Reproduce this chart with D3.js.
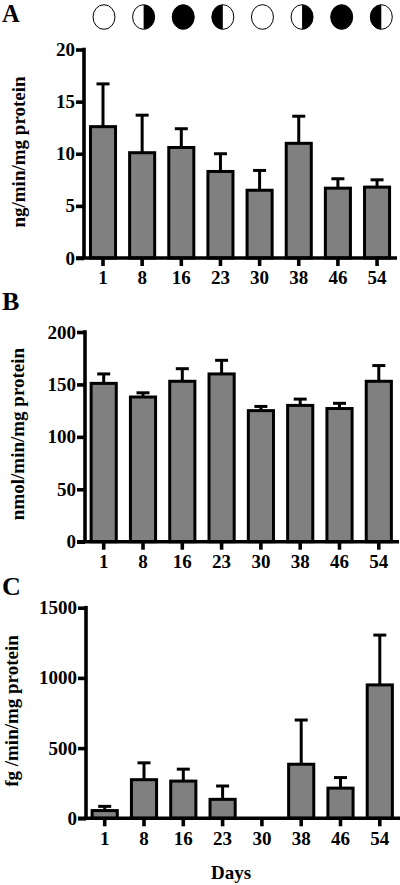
<!DOCTYPE html>
<html>
<head>
<meta charset="utf-8">
<script src="https://cdn.jsdelivr.net/npm/d3@7"></script>
<style>
    html, body { margin: 0; padding: 0; background: #fff; }
    svg { display: block; }
    text { font-family: "Liberation Serif", serif; font-weight: bold; fill: #000; }
    .axis path, .axis line { stroke: #000; stroke-width: 3.6px; }
    .axis text { font-size: 19px; }
</style>
</head>
<body>
<div id="chart"></div>
<script>
const days = ['1', '8', '16', '23', '30', '38', '46', '54'];

const valuesA = [12.6, 10.1, 10.6, 8.3, 6.5, 11, 6.7, 6.8];
const errorTopsA = [16.7, 13.7, 12.4, 10, 8.4, 13.6, 7.6, 7.5];
const ticksA = [0, 5, 10, 15, 20];

const valuesB = [151, 138, 153, 160, 125, 130, 127, 153];
const errorTopsB = [160, 142, 165, 173, 129, 136, 132, 168];
const ticksB = [0, 50, 100, 150, 200];

const valuesC = [55, 275, 265, 135, 0, 385, 215, 950];
const errorTopsC = [85, 395, 350, 230, 0, 700, 290, 1305];
const ticksC = [0, 500, 1000, 1500];

// full, right half dark, new, left half dark, repeated
const moonPhases = ['full', 'right', 'new', 'left', 'full', 'right', 'new', 'left'];

const svg = d3.select('#chart')
    .append('svg')
    .attr('width', 400)
    .attr('height', 885);

function drawPanel(p) {
    const x = d3.scaleBand()
        .domain(days)
        .range([p.firstX - p.step / 2, p.firstX + p.step * 7.5])
        .paddingInner(0.36)
        .paddingOuter(0.18);
    const y = d3.scaleLinear()
        .domain([0, p.ticks[p.ticks.length - 1]])
        .range([p.bottom, p.top]);

    const g = svg.append('g');

    // error bars go under the bars
    const err = g.selectAll('.err')
        .data(days.filter((d, i) => p.values[i] > 0))
        .enter()
        .append('g')
        .attr('class', 'err')
        .attr('stroke', '#000')
        .attr('stroke-width', 3);
    const center = d => x(d) + x.bandwidth() / 2;
    const val = d => p.values[days.indexOf(d)];
    const errTop = d => p.errorTops[days.indexOf(d)];
    err.append('line')
        .attr('x1', center).attr('x2', center)
        .attr('y1', d => y(val(d))).attr('y2', d => y(errTop(d)));
    err.append('line')
        .attr('x1', d => center(d) - 6.5).attr('x2', d => center(d) + 6.5)
        .attr('y1', d => y(errTop(d))).attr('y2', d => y(errTop(d)));

    g.selectAll('.bar')
        .data(days.filter((d, i) => p.values[i] > 0))
        .enter()
        .append('rect')
        .attr('class', 'bar')
        .attr('x', d => x(d))
        .attr('width', x.bandwidth())
        .attr('y', d => y(val(d)))
        .attr('height', d => p.bottom - y(val(d)))
        .attr('fill', '#808080')
        .attr('stroke', '#000')
        .attr('stroke-width', 3);

    g.append('g')
        .attr('class', 'axis')
        .attr('transform', 'translate(' + p.axisX + ',0)')
        .call(d3.axisLeft(y).tickValues(p.ticks).tickFormat(d3.format('d')).tickSize(8).tickSizeOuter(0).tickPadding(1))
        .select('.domain').attr('d', 'M0,' + (p.top - 1.8) + 'V' + p.bottom);

    g.append('g')
        .attr('class', 'axis')
        .attr('transform', 'translate(0,' + p.bottom + ')')
        .call(d3.axisBottom(x).tickSize(8).tickSizeOuter(0).tickPadding(5))
        .select('.domain').attr('d', 'M' + (p.axisX - 8) + ',0H' + p.axisEnd);

    g.append('text')
        .attr('transform', 'translate(' + p.labelX + ',' + p.labelY + ') rotate(-90)')
        .attr('text-anchor', 'middle')
        .attr('font-size', 19)
        .text(p.yLabel);

    g.append('text')
        .attr('x', 2)
        .attr('y', p.letterY)
        .attr('font-size', p.letterSize)
        .text(p.letter);
}

drawPanel({
    letter: 'A', letterY: 22, letterSize: 24.5, yLabel: 'ng/min/mg protein', labelX: 25, labelY: 152,
    values: valuesA, errorTops: errorTopsA, ticks: ticksA,
    firstX: 103, step: 39.15, axisX: 84, axisEnd: 397, top: 49.5, bottom: 258
});
drawPanel({
    letter: 'B', letterY: 310, letterSize: 26, yLabel: 'nmol/min/mg protein', labelX: 24, labelY: 434,
    values: valuesB, errorTops: errorTopsB, ticks: ticksB,
    firstX: 103.7, step: 39.3, axisX: 85, axisEnd: 399, top: 332, bottom: 541.7
});
drawPanel({
    letter: 'C', letterY: 595, letterSize: 26, yLabel: 'fg /min/mg protein', labelX: 18, labelY: 711,
    values: valuesC, errorTops: errorTopsC, ticks: ticksC,
    firstX: 104.7, step: 39.3, axisX: 86, axisEnd: 400, top: 607.7, bottom: 818.3
});

svg.append('text')
    .attr('x', 231)
    .attr('y', 879)
    .attr('text-anchor', 'middle')
    .attr('font-size', 19)
    .text('Days');

// moon phase row above panel A
const moonX = d3.scalePoint().domain(days).range([104, 381.3]);
const moons = svg.selectAll('.moon')
    .data(days)
    .enter()
    .append('g')
    .attr('class', 'moon')
    .attr('transform', d => 'translate(' + moonX(d) + ',17)');
const rx = 11, ry = 12.3;
moons.append('ellipse')
    .attr('rx', rx).attr('ry', ry)
    .attr('fill', (d, i) => moonPhases[i] === 'new' ? '#000' : '#fff')
    .attr('stroke', '#000')
    .attr('stroke-width', 1);
moons.filter((d, i) => moonPhases[i] === 'right' || moonPhases[i] === 'left')
    .append('path')
    .attr('d', d => {
        const sweep = moonPhases[days.indexOf(d)] === 'right' ? 1 : 0;
        return 'M0,' + (-ry) + 'A' + rx + ',' + ry + ' 0 0 ' + sweep + ' 0,' + ry + 'Z';
    })
    .attr('fill', '#000');
</script>
</body>
</html>
